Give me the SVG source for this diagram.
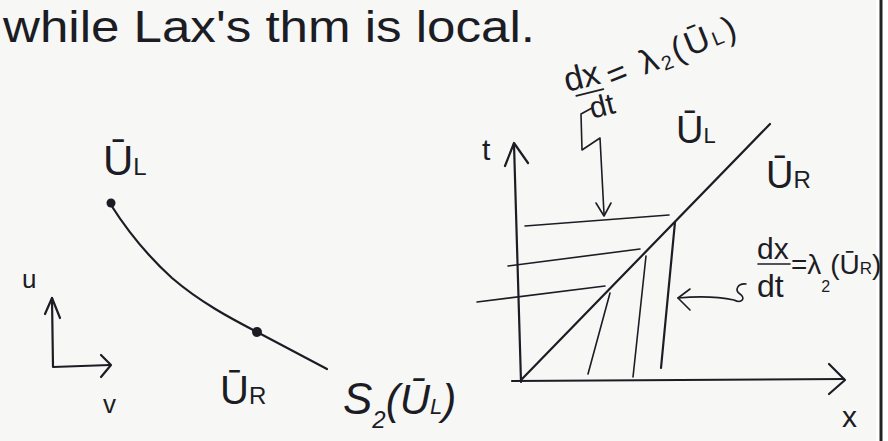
<svg xmlns="http://www.w3.org/2000/svg" width="888" height="441" viewBox="0 0 888 441">
<style>
.ink{stroke:#1c1c24;fill:none;stroke-width:2.2;stroke-linecap:round;stroke-linejoin:round}
.thin{stroke-width:1.6}
.t{font-family:"Liberation Sans","DejaVu Sans",sans-serif;fill:#1c1c24}
</style>
<rect width="888" height="441" fill="#ffffff"/>
<rect width="876" height="441" fill="#f7f7f6"/>
<line x1="881" y1="0" x2="881" y2="441" stroke="#222" stroke-width="3"/>

<text class="t" x="3" y="42" font-size="44" textLength="532" lengthAdjust="spacingAndGlyphs">while Lax's thm is local.</text>

<!-- left: state space -->
<g id="left-axes">
<path class="ink" d="M52 298 L53 367 L110 365"/>
<path class="ink" d="M45 314 L52 298 L60 318"/>
<path class="ink" d="M101 355 L111 365 L101 377"/>
<text class="t" x="22" y="288" font-size="26">u</text>
<text class="t" x="103" y="413" font-size="26">v</text>
</g>
<g id="curve">
<path class="ink" d="M111 205 C 130 235, 150 258, 172 278 C 200 302, 230 318, 257 332 C 285 347, 310 360, 327 369"/>
<circle cx="111" cy="203" r="4.5" fill="#1c1c24"/>
<circle cx="257" cy="332" r="5" fill="#1c1c24"/>
</g>
<g id="label-UL-left"><text class="t" x="103" y="175" font-size="42">Ū<tspan font-size="24">L</tspan></text></g>
<g id="label-UR-left"><text class="t" x="220" y="404" font-size="40">Ū<tspan font-size="24">R</tspan></text></g>
<g id="label-S2"><text class="t" x="343" y="414" font-size="44" font-style="italic">S<tspan font-size="24" dy="14">2</tspan><tspan font-size="42" dy="-14">(Ū</tspan><tspan font-size="22">L</tspan><tspan font-size="42">)</tspan></text></g>

<!-- right: x-t plane -->
<g id="right-axes">
<path class="ink" d="M514 144 L521 382"/>
<path class="ink" d="M505 166 L514 143 L528 163"/>
<path class="ink" d="M512 381 L844 379"/>
<path class="ink" d="M829 364 L845 380 L829 394"/>
<text class="t" x="482" y="160" font-size="30">t</text>
<text class="t" x="842" y="427" font-size="30">x</text>
</g>
<g id="shock">
<path class="ink" d="M522 379 L770 124"/>
</g>
<g id="characteristics">
<path class="ink thin" d="M525 226 L669 215"/>
<path class="ink thin" d="M508 266 L640 249"/>
<path class="ink thin" d="M477 302 L605 286"/>
<path class="ink thin" d="M610 293 L588 374"/>
<path class="ink thin" d="M646 256 L633 377"/>
<path class="ink" stroke-width="2.8" d="M675 222 L661 368"/>
</g>
<g id="pointer-top">
<path class="ink thin" d="M592 108 L581 114 L582 150 L600 138 L604 214"/>
<path class="ink thin" d="M596 203 L604 216 L611 203"/>
</g>
<g id="pointer-right">
<path class="ink thin" d="M746 284 C 738 283, 734 290, 740 294 C 746 298, 742 304, 734 300 C 715 296, 700 296, 678 298"/>
<path class="ink thin" d="M690 289 L678 298 L690 310"/>
</g>
<g id="label-top">
<g transform="translate(567,92) rotate(-14)">
<text class="t" x="0" y="0" font-size="34">dx</text>
<line class="ink thin" x1="8" y1="6" x2="36" y2="6"/>
<text class="t" x="18" y="32" font-size="30">dt</text>
</g>
<g transform="translate(612,88) rotate(-22)">
<text class="t" x="0" y="0" font-size="34" letter-spacing="3">= λ<tspan font-size="20" dy="4">2</tspan><tspan font-size="34" dy="-4">(Ū</tspan><tspan font-size="20">L</tspan><tspan font-size="34">)</tspan></text>
</g>
</g>
<g id="label-UL-right"><text class="t" x="676" y="143" font-size="38">Ū<tspan font-size="22">L</tspan></text></g>
<g id="label-UR-right"><text class="t" x="766" y="188" font-size="38">Ū<tspan font-size="24">R</tspan></text></g>
<g id="label-right">
<text class="t" x="757" y="259" font-size="30">dx</text>
<line class="ink thin" x1="758" y1="264" x2="790" y2="264"/>
<text class="t" x="757" y="297" font-size="32">dt</text>
<text class="t" x="791" y="274" font-size="28">=λ<tspan font-size="16" dy="18">2</tspan><tspan font-size="28" dy="-18">(Ū</tspan><tspan font-size="17">R</tspan><tspan font-size="28">)</tspan></text>
</g>
</svg>
